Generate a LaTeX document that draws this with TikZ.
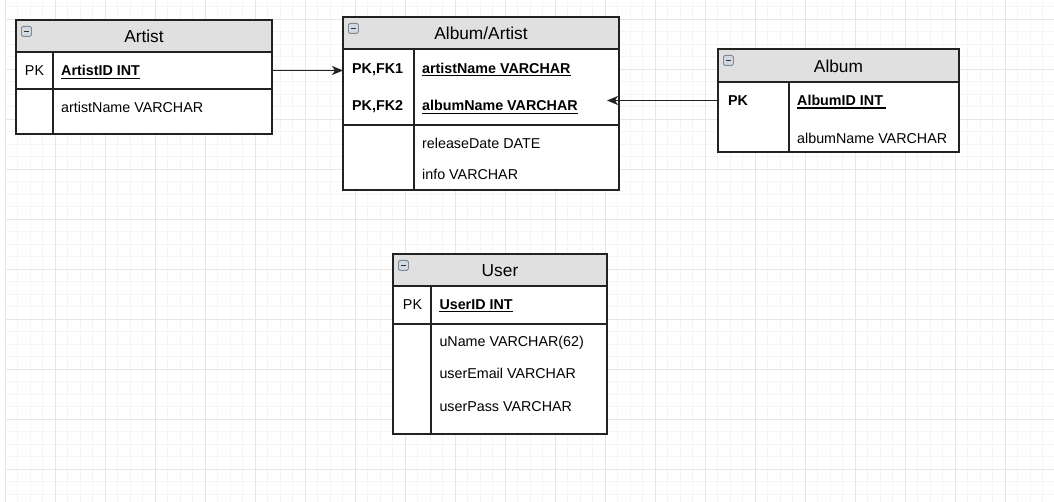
\documentclass[tikz,border=0pt]{standalone}
\usepackage{fontspec}
\setmainfont{Liberation Sans}
\usetikzlibrary{arrows.meta}
\definecolor{gridminor}{HTML}{F5F5F5}
\definecolor{gridmajor}{HTML}{E6E6E6}
\definecolor{hdrfill}{HTML}{E0E0E0}
\definecolor{edgecol}{HTML}{222222}
\definecolor{iconfill}{HTML}{D3D9E0}
\definecolor{iconedge}{HTML}{7D8A97}
\tikzset{
  tbsec/.style={draw=edgecol, line width=1.2pt, fill=white, inner sep=0pt, outer sep=0pt, anchor=north west},
  tbhdr/.style={tbsec, fill=hdrfill},
  tbdiv/.style={draw=edgecol, line width=1.2pt},
  tbttl/.style={inner sep=0pt, anchor=base, font=\fontsize{17.3pt}{20pt}\selectfont},
  tbtxt/.style={inner sep=0pt, anchor=base west, font=\fontsize{14.3pt}{17pt}\selectfont},
  tbkey/.style={inner sep=0pt, anchor=base west, font=\fontsize{14.3pt}{17pt}\selectfont\bfseries},
  tbpk/.style={inner sep=0pt, anchor=base, font=\fontsize{14.3pt}{17pt}\selectfont},
  tbul/.style={line width=1.3pt, black},
  tbicon/.style={draw=iconedge, fill=iconfill, rounded corners=1.5pt, line width=0.8pt, minimum size=10pt, inner sep=0pt, anchor=north west},
  tbminus/.style={draw=black!80, line width=1.4pt},
  conn/.style={draw=edgecol, line width=1.3pt, -{Stealth[length=11pt,width=9pt,inset=3pt]}},
  gmin/.style={draw=gridminor, line width=1pt},
  gmaj/.style={draw=gridmajor, line width=1pt},
}
\begin{document}
\begin{tikzpicture}[x=1pt,y=-1pt]
\useasboundingbox (0,0) rectangle (1054,502);
\fill[white] (0,0) rectangle (1054,502);
% grid
\foreach \i in {0,...,83} { \draw[gmin] ({5+12.5*\i},0) -- ({5+12.5*\i},502); }
\foreach \j in {0,...,39} { \draw[gmin] (5,{6.8+12.5*\j}) -- (1054,{6.8+12.5*\j}); }
\foreach \i in {0,...,20} { \draw[gmaj] ({5+50*\i},0) -- ({5+50*\i},502); }
\foreach \j in {0,...,9} { \draw[gmaj] (5,{19.3+50*\j}) -- (1054,{19.3+50*\j}); }

% ---------- Artist ----------
\node[tbhdr, minimum width=256pt, minimum height=32pt] (artH) at (16,20) {};
\node[tbsec, minimum width=256pt, minimum height=37pt] (artK) at (16,52) {};
\node[tbsec, minimum width=256pt, minimum height=45pt] (artA) at (16,89) {};
\draw[tbdiv] (53,52) -- (53,134);
\node[tbicon] (artI) at (21,26) {};
\draw[tbminus] ([xshift=2.5pt]artI.west) -- ([xshift=-2.5pt]artI.east);
\node[tbttl] (artT) at (144,42.5) {Artist};
\node[tbpk] (artPK) at (34.5,76) {PK};
\node[tbkey] (artID) at (61,76) {ArtistID INT};
\draw[tbul] ([yshift=-2.2pt]artID.base west) -- ([yshift=-2.2pt]artID.base east);
\node[tbtxt] (artName) at (61,112.7) {artistName VARCHAR};

% ---------- Album/Artist ----------
\node[tbhdr, minimum width=276pt, minimum height=32pt] (aaH) at (343,17) {};
\node[tbsec, minimum width=276pt, minimum height=76pt] (aaK) at (343,49) {};
\node[tbsec, minimum width=276pt, minimum height=65pt] (aaA) at (343,125) {};
\draw[tbdiv] (414,49) -- (414,190);
\node[tbicon] (aaI) at (348,23) {};
\draw[tbminus] ([xshift=2.5pt]aaI.west) -- ([xshift=-2.5pt]aaI.east);
\node[tbttl] (aaT) at (481,40) {Album/Artist};
\node[tbkey] (aaPK1) at (352,73.3) {PK,FK1};
\node[tbkey] (aaPK2) at (352,111) {PK,FK2};
\node[tbkey] (aaArt) at (422,73.3) {artistName VARCHAR};
\draw[tbul] ([yshift=-2.2pt]aaArt.base west) -- ([yshift=-2.2pt]aaArt.base east);
\node[tbkey] (aaAlb) at (422,111) {albumName VARCHAR};
\draw[tbul] ([yshift=-2.2pt]aaAlb.base west) -- ([yshift=-2.2pt]aaAlb.base east);
\node[tbtxt] (aaRel) at (422,148.3) {releaseDate DATE};
\node[tbtxt] (aaInfo) at (422,180) {info VARCHAR};

% ---------- Album ----------
\node[tbhdr, minimum width=241pt, minimum height=33pt] (albH) at (718,49) {};
\node[tbsec, minimum width=241pt, minimum height=70pt] (albB) at (718,82) {};
\draw[tbdiv] (789,82) -- (789,152);
\node[tbicon] (albI) at (723,55) {};
\draw[tbminus] ([xshift=2.5pt]albI.west) -- ([xshift=-2.5pt]albI.east);
\node[tbttl] (albT) at (838.5,73) {Album};
\node[tbkey] (albPK) at (728,105.7) {PK};
\node[tbkey] (albID) at (797,105.7) {AlbumID INT};
\draw[tbul] ([yshift=-2.2pt]albID.base west) -- ([yshift=-2.2pt,xshift=3pt]albID.base east);
\node[tbtxt] (albName) at (797,143.3) {albumName VARCHAR};

% ---------- User ----------
\node[tbhdr, minimum width=214pt, minimum height=32pt] (usrH) at (393,254) {};
\node[tbsec, minimum width=214pt, minimum height=38pt] (usrK) at (393,286) {};
\node[tbsec, minimum width=214pt, minimum height=110pt] (usrA) at (393,324) {};
\draw[tbdiv] (431,286) -- (431,434);
\node[tbicon] (usrI) at (398,260) {};
\draw[tbminus] ([xshift=2.5pt]usrI.west) -- ([xshift=-2.5pt]usrI.east);
\node[tbttl] (usrT) at (500,277) {User};
\node[tbpk] (usrPK) at (412.5,309.3) {PK};
\node[tbkey] (usrID) at (439.3,309.3) {UserID INT};
\draw[tbul] ([yshift=-2.2pt]usrID.base west) -- ([yshift=-2.2pt]usrID.base east);
\node[tbtxt] (usrName) at (439.3,346.7) {uName VARCHAR(62)};
\node[tbtxt] (usrEmail) at (439.3,378.3) {userEmail VARCHAR};
\node[tbtxt] (usrPass) at (439.3,411.7) {userPass VARCHAR};

% ---------- connectors ----------
\draw[conn] (artK.east) -- (artK.east -| aaK.west);
\coordinate (albPort) at (718,100.5);
\coordinate (aaFKin) at (607,100.5);
\draw[conn] (albPort) -- (aaFKin);
\end{tikzpicture}
\end{document}
